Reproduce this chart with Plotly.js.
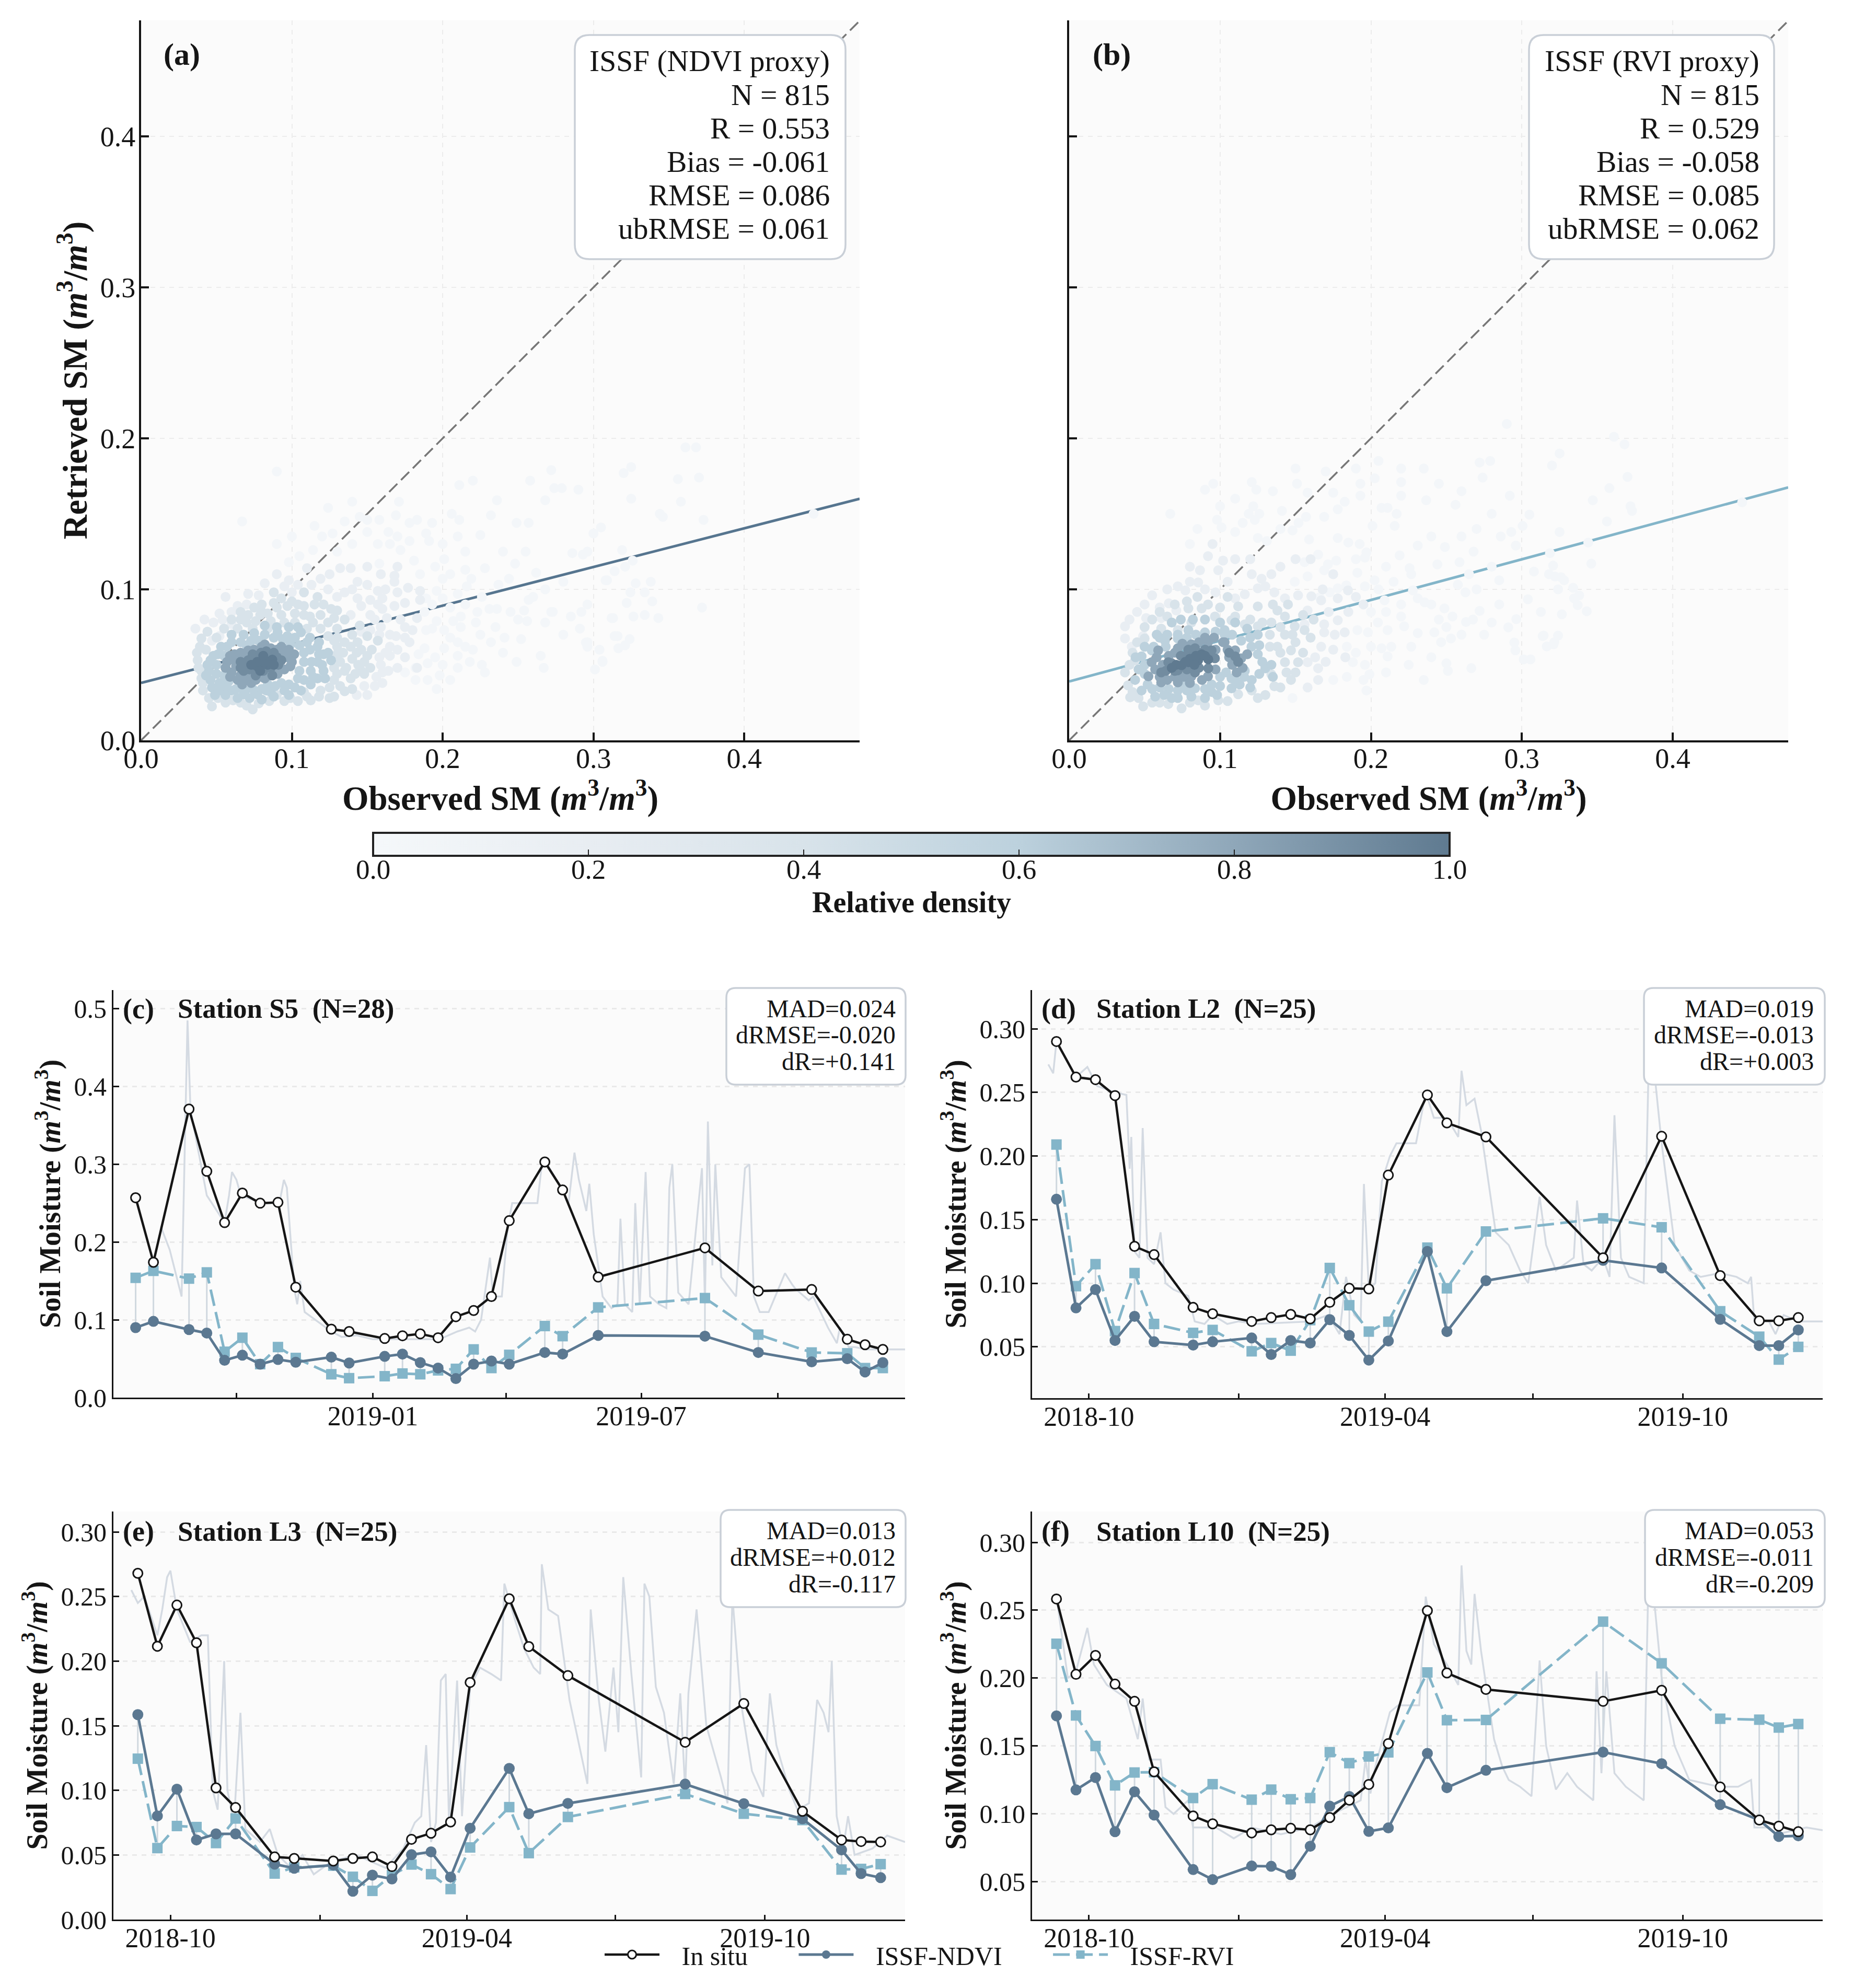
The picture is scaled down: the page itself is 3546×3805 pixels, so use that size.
<!DOCTYPE html>
<html>
<head>
<meta charset="utf-8">
<script src="https://cdn.plot.ly/plotly-3.0.1.min.js"></script>
<style>body{margin:0;background:#fff}</style>
</head>
<body>
<div id="plot"></div>
<script>
// sampling dates shared by the stations (12 day revisit)
var dates25 = ["2018-09-11","2018-09-23","2018-10-05","2018-10-17","2018-10-29","2018-11-10","2018-12-04","2018-12-16",
  "2019-01-09","2019-01-21","2019-02-02","2019-02-14","2019-02-26","2019-03-10","2019-03-22","2019-04-03","2019-04-27",
  "2019-05-09","2019-06-02","2019-08-13","2019-09-18","2019-10-24","2019-11-17","2019-11-29","2019-12-11"];
var dates28 = ["2018-07-25","2018-08-06","2018-08-30"].concat(dates25);

// station S5
var s5Insitu = [.257,.174,.371,.291,.225,.263,.250,.251,.142,.088,.085,.076,.0795,.082,.077,.104,.112,.130,.2275,.303,.267,.155,.1925,.137,.139,.075,.068,.062];
var s5Ndvi = [.090,.098,.0875,.083,.048,.0545,.043,.049,.0455,.052,.0445,.053,.056,.045,.038,.0245,.043,.047,.043,.058,.056,.080,.079,.058,.046,.05,.033,.045];
var s5Rvi = [.154,.163,.153,.161,.059,.077,.043,.065,.051,.030,.025,.0275,.031,.030,.035,.037,.062,.038,.055,.092,.079,.116,.128,.081,.058,.057,.038,.038];
// station L2
var l2Insitu = [.290,.262,.260,.2475,.129,.1225,.081,.076,.070,.073,.0755,.072,.085,.096,.0955,.185,.248,.226,.215,.120,.2155,.106,.0705,.0705,.073];
var l2Ndvi = [.166,.0806,.095,.055,.074,.054,.0514,.054,.057,.044,.055,.053,.0714,.059,.0396,.0546,.125,.062,.102,.118,.112,.0716,.051,.051,.0633];
var l2Rvi = [.209,.0977,.115,.0624,.108,.068,.061,.0633,.0465,.053,.047,.071,.112,.0827,.062,.0698,.128,.096,.1407,.151,.144,.078,.058,.04,.05];
// station L3
var l3Insitu = [.268,.2115,.2434,.2142,.1019,.0867,.0485,.0473,.0453,.0473,.0485,.041,.0621,.0668,.0755,.1835,.2483,.2113,.1888,.1372,.1672,.0838,.0616,.0604,.06];
var l3Ndvi = [.1586,.0802,.1009,.0616,.0663,.0663,.0429,.0397,.0422,.0219,.0344,.0314,.0502,.0524,.0329,.0707,.117,.0819,.0899,.1048,.0897,.078,.0539,.0356,.0324];
var l3Rvi = [.1245,.0553,.0724,.0716,.0592,.0782,.0356,.0404,.0417,.0331,.0222,.0344,.0426,.0351,.0236,.0558,.087,.0514,.0794,.0972,.0819,.077,.0387,.0392,.0429];
// station L10
var l10Insitu = [.2583,.2028,.2167,.1956,.1829,.131,.0985,.0927,.086,.0883,.0894,.0883,.0973,.1101,.1217,.1518,.2497,.2038,.1917,.1829,.191,.1198,.0955,.091,.0869];
var l10Ndvi = [.1722,.1177,.1268,.0869,.1163,.0992,.059,.0516,.0616,.0614,.0553,.0762,.1057,.1128,.0871,.0897,.1446,.1193,.1321,.1455,.137,.1068,.0955,.0834,.0839];
var l10Rvi = [.2253,.1725,.15,.121,.1305,.1307,.1117,.1219,.1105,.1179,.1108,.1117,.1455,.1374,.1423,.1453,.2042,.169,.1692,.2416,.2109,.1701,.1694,.1636,.1662];

// continuous probe record behind each panel, days counted from dailyBase, read at the turning points
var dailyBase = "2018-10-01";
var s5DailyDays = [-51,-45,-37,-35,-33,-31,-21,-20,-8,-5,-3,0,3,17,29,32,34,39,41,43,46,53,64,71,81,92,105,137,149,157,161,165,171,173,179,183,186,193,203,206,208,219,224,228,231,236,238,241,247,253,257,259,262,267,269,272,276,279,285,290,292,294,298,305,314,316,318,321,323,327,337,343,346,349,353,359,370,375,377,386,389,399,405,407,413,417,425,436,452];
var s5DailyVal = [.22,.19,.13,.30,.485,.37,.27,.26,.225,.26,.29,.28,.26,.25,.25,.28,.27,.14,.12,.15,.11,.10,.085,.078,.08,.075,.075,.075,.085,.09,.085,.10,.18,.13,.13,.22,.25,.25,.25,.30,.305,.27,.25,.315,.28,.24,.275,.21,.13,.115,.12,.23,.12,.11,.25,.12,.29,.13,.12,.115,.27,.30,.135,.12,.295,.12,.355,.17,.30,.155,.13,.295,.30,.13,.11,.11,.16,.145,.14,.125,.13,.09,.07,.09,.065,.065,.062,.062,.062];
var l2DailyDays = [-25,-22,-20,-8,-1,5,16,23,25,26,28,31,33,36,40,44,47,52,61,65,71,76,85,92,103,136,147,154,158,163,167,169,172,176,180,185,189,201,207,212,220,227,229,232,237,241,250,258,265,270,277,281,287,298,300,304,309,316,320,323,327,332,341,344,348,352,360,369,376,388,398,405,407,409,418,422,427,436,451];
var l2DailyVal = [.272,.265,.29,.262,.27,.255,.25,.248,.19,.215,.125,.12,.222,.12,.115,.14,.10,.095,.09,.07,.068,.075,.068,.07,.068,.07,.075,.06,.105,.075,.07,.178,.095,.10,.18,.20,.21,.21,.25,.23,.23,.215,.267,.24,.245,.22,.14,.13,.11,.10,.168,.13,.11,.12,.165,.115,.11,.12,.105,.232,.12,.105,.10,.27,.26,.21,.13,.11,.105,.108,.105,.10,.105,.07,.07,.06,.075,.07,.07];
var l3DailyDays = [-24,-20,-16,-8,-5,-2,0,4,12,19,23,26,29,33,35,39,43,46,55,61,66,74,81,88,99,114,132,143,150,154,157,160,163,166,169,171,176,179,184,190,197,203,205,212,217,223,227,228,232,238,245,250,256,258,263,267,270,272,275,278,283,289,291,294,298,303,309,313,316,318,323,329,338,342,345,350,357,364,368,372,380,385,392,397,401,404,406,409,413,416,420,431,440,451];
var l3DailyVal = [.255,.245,.25,.22,.24,.265,.27,.24,.215,.22,.22,.10,.085,.20,.10,.075,.16,.07,.06,.07,.05,.04,.05,.035,.045,.05,.04,.055,.075,.08,.135,.06,.075,.185,.19,.075,.185,.08,.18,.195,.19,.185,.26,.23,.21,.195,.19,.275,.24,.235,.17,.14,.105,.24,.17,.13,.17,.195,.145,.265,.19,.11,.26,.25,.18,.16,.105,.175,.10,.175,.24,.15,.11,.09,.25,.17,.115,.095,.175,.135,.10,.085,.09,.17,.16,.145,.20,.08,.055,.08,.05,.055,.065,.06];
var l10DailyDays = [-20,-13,-8,-1,3,11,23,30,33,37,44,47,52,61,64,71,78,89,100,118,136,150,167,170,173,176,185,190,203,207,212,220,227,229,232,235,237,241,249,254,258,265,272,277,281,287,294,300,310,312,315,318,323,330,341,344,348,352,360,369,387,399,407,409,418,423,441,451];
var l10DailyVal = [.26,.20,.205,.237,.21,.195,.185,.155,.185,.14,.14,.105,.10,.11,.09,.09,.09,.082,.09,.085,.09,.10,.11,.14,.115,.135,.175,.18,.18,.26,.225,.21,.195,.283,.22,.21,.262,.22,.155,.135,.125,.12,.113,.213,.15,.118,.13,.12,.11,.205,.13,.205,.13,.12,.11,.28,.25,.20,.15,.125,.12,.12,.125,.09,.09,.085,.09,.088];

// density levels used for the scatter groups below
var densityFaint = .03, densityLight = .18, densityMedium = .4, densityMid = .6, densityDark = .8, densityDeep = .92, densityCore = 1;

// panel (a) points [observed, retrieved]
var aFaint = [[.272,.179],[.274,.167],[.279,.167],[.29,.166],[.32,.177],[.325,.181],[.361,.194],[.368,.194],[.356,.173],[.37,.174],[.325,.16],[.358,.158],[.344,.15],[.346,.148],[.373,.146],[.305,.141],[.30,.137],[.286,.124],[.293,.123],[.296,.125],[.319,.126],[.326,.119],[.321,.115],[.314,.112],[.308,.106],[.328,.104],[.338,.105],[.3245,.098],[.334,.098],[.322,.091],[.339,.092],[.296,.09],[.272,.085],[.285,.082],[.292,.085],[.313,.081],[.3265,.082],[.334,.083],[.343,.081],[.372,.088],[.291,.074],[.314,.069],[.324,.067],[.321,.063],[.3165,.061],[.295,.0648],[.296,.062],[.304,.06],[.306,.0527],[.301,.047],[.446,.15],
  [.067,.145],[.09,.178],[.124,.154],[.14,.158],[.115,.142],[.15,.146],[.158,.146],[.171,.158],[.169,.149],[.178,.144],[.183,.146],[.193,.144],[.206,.15],[.211,.146],[.22,.172],[.211,.169],[.232,.149],[.236,.159],[.258,.172],[.268,.159],[.249,.144],[.257,.144],[.225,.136],[.189,.137],[.191,.132],[.164,.138],[.17,.135],[.15,.138],[.127,.137],[.157,.13],[.178,.132],[.172,.126],[.114,.126],[.181,.119],[.158,.117],[.201,.12],[.2,.107],[.248,.117],[.228,.114],[.215,.113],[.219,.107],[.262,.111],[.244,.107],[.309,.106],
  [.252,.067],[.249,.052],[.267,.048],[.226,.05],[.228,.045],[.198,.043],[.205,.04],[.196,.034],[.21,.056],[.215,.062],[.201,.061],[.188,.061],[.184,.057],[.19,.051],[.182,.048],[.225,.07],[.241,.068],[.232,.065],[.265,.056],[.257,.093],[.254,.086],[.256,.079],[.231,.087],[.236,.087],[.273,.085],[.296,.065],[.306,.052],[.312,.081],[.316,.069],[.212,.082],[.212,.075],[.196,.079],[.207,.079],[.189,.073],[.193,.074],[.201,.073],[.223,.085],[.189,.094],[.2,.094],[.21,.097],[.216,.102],[.226,.095],[.237,.103],[.196,.099],
  [.188,.085],[.193,.09],[.205,.088],[.215,.09],[.222,.078],[.205,.068],[.21,.065],[.22,.06],[.235,.075],[.245,.085],[.195,.055],[.2,.05],[.21,.048],[.175,.045],[.182,.04],[.19,.04],[.218,.052],[.24,.058],[.25,.08],[.28,.07],[.268,.078],[.26,.095],[.268,.1],[.28,.105],[.24,.125],[.255,.125],[.215,.125],[.2,.13],[.21,.135],[.185,.11],[.195,.115],[.205,.11],[.165,.13],[.14,.13],[.13,.125],[.105,.122],[.098,.118],[.09,.13],[.1,.135],[.145,.148],[.12,.135],[.135,.145]];
var aLight = [[.135,.098],[.1435,.105],[.15,.103],[.157,.099],[.168,.105],[.177,.101],[.185,.099],[.1435,.094],[.152,.093],[.16,.094],[.17,.098],[.175,.091],[.185,.093],[.146,.089],[.157,.09],[.168,.089],[.139,.083],[.152,.083],[.163,.081],[.159,.075],[.152,.073],[.146,.072],[.169,.069],[.175,.068],[.18,.073],[.183,.081],[.162,.058],[.17,.06],[.159,.05],[.164,.046],[.156,.042],[.15,.03],[.183,.048],[.132,.114],[.139,.114],[.159,.11],[.119,.107],[.113,.103],[.104,.103],[.098,.106],[.11,.114],[.168,.109],[.056,.095],[.071,.097],[.078,.096],[.052,.084],[.064,.089],[.06,.077],[.036,.074],[.052,.069],[.047,.066],
  [.042,.08],[.048,.078],[.054,.08],[.06,.085],[.07,.09],[.082,.104],[.09,.11],[.095,.102],[.1,.098],[.124,.1],[.13,.095],[.125,.11],[.14,.1],[.16,.087],[.165,.07],[.172,.08],[.175,.075],[.178,.065],[.165,.062],[.158,.07],[.155,.08],[.162,.1],[.17,.115],[.15,.115],[.158,.055],[.165,.056],[.155,.036],[.16,.038],[.148,.036],[.143,.03],[.16,.045],[.17,.048],[.175,.055]];
var aMedium = [[.088,.098],[.093,.094],[.088,.091],[.097,.089],[.093,.083],[.086,.079],[.084,.074],[.108,.098],[.117,.095],[.108,.089],[.121,.09],[.126,.087],[.119,.083],[.128,.081],[.108,.083],[.102,.078],[.11,.074],[.119,.074],[.13,.074],[.071,.083],[.079,.083],[.074,.074],[.064,.074],[.04,.0675],[.039,.062],[.0375,.053],[.04,.046],[.041,.038],[.041,.033],[.047,.0225],[.074,.0205],[.078,.0245],[.061,.0265],[.051,.028],[.09,.03],[.099,.028],[.104,.026],[.1125,.0265],[.125,.028],[.128,.029],[.135,.0325],[.14,.034],[.119,.033],[.108,.032],[.148,.044],[.139,.041],[.146,.046],[.148,.052],[.14,.054],[.135,.046],[.13,.044],[.13,.062],[.135,.065],[.128,.066],[.139,.062],[.1435,.065],[.15,.069],
  [.037,.058],[.038,.048],[.04,.041],[.043,.06],[.044,.072],[.05,.068],[.055,.074],[.06,.08],[.066,.08],[.07,.078],[.076,.079],[.08,.085],[.084,.084],[.09,.088],[.095,.078],[.102,.084],[.104,.09],[.112,.082],[.114,.078],[.124,.078],[.13,.068],[.124,.069],[.13,.057],[.134,.058],[.128,.048],[.132,.052],[.136,.048],[.128,.04],[.125,.035],[.132,.036],[.118,.029],[.11,.029],[.095,.026],[.085,.026],[.07,.023],[.066,.025],[.056,.025],[.045,.028],[.143,.058],[.146,.06],[.144,.05],[.15,.056],[.152,.048],[.142,.044],[.153,.06],[.157,.066],[.14,.07],[.145,.076],[.135,.08],[.13,.086],[.115,.09],[.1,.092],[.08,.09],[.075,.088],[.066,.085]];
var aMid = [[.097,.069],[.106,.0715],[.099,.0635],[.11,.065],[.117,.062],[.121,.057],[.126,.053],[.121,.046],[.117,.041],[.1125,.037],[.106,.033],[.095,.033],[.086,.032],[.077,.0305],[.068,.0305],[.06,.033],[.052,.033],[.046,.04],[.045,.046],[.046,.053],[.051,.057],[.057,.062],[.066,.065],[.073,.066],[.082,.07],[.0905,.0715],[.108,.052],[.1125,.046],[.104,.041],[.093,.038],[.084,.037],[.117,.052],
  [.05,.05],[.05,.044],[.052,.038],[.055,.056],[.056,.036],[.058,.039],[.06,.065],[.063,.034],[.069,.033],[.07,.063],[.074,.034],[.078,.066],[.08,.034],[.083,.033],[.088,.068],[.089,.036],[.094,.067],[.098,.037],[.102,.068],[.102,.035],[.105,.063],[.105,.046],[.108,.058],[.108,.04],[.112,.06],[.113,.052],[.114,.042],[.118,.057],[.12,.05],[.122,.041],[.124,.058],[.053,.062],[.048,.056],[.047,.035],[.049,.03],[.056,.03],[.064,.028],[.072,.028],[.08,.027],[.088,.029],[.098,.03],[.043,.043],[.044,.05],[.055,.043],[.112,.068],[.118,.065],[.104,.075],[.098,.075],[.09,.075],[.082,.076],[.075,.071],[.068,.07],[.06,.07]];
var aDark = [[.057,.052],[.06,.045],[.064,.04],[.073,.038],[.082,.041],[.0905,.044],[.099,.049],[.1015,.057],[.093,.062],[.082,.0635],[.071,.0595],[.062,.057],
  [.059,.056],[.063,.049],[.066,.043],[.07,.056],[.07,.041],[.075,.06],[.076,.04],[.08,.062],[.08,.042],[.085,.043],[.086,.061],[.09,.06],[.095,.047],[.097,.055],[.098,.06],[.062,.053],[.066,.058],[.067,.037],[.072,.043],[.088,.046],[.094,.057],[.09,.05],[.1,.052],[.056,.048],[.059,.042]];
var aDeep = [[.066,.052],[.068,.046],[.077,.045],[.086,.048],[.093,.053],[.088,.058],[.0795,.058],[.073,.054],
  [.07,.05],[.072,.047],[.074,.057],[.078,.055],[.081,.046],[.084,.056],[.09,.055],[.091,.05],[.071,.053],[.076,.043],[.083,.059],[.066,.048],[.087,.043]];
var aCore = [[.075,.05],[.082,.053],[.084,.05],[.078,.048],[.087,.0535],[.08,.05],[.077,.052],[.085,.052],[.081,.056],[.073,.05],[.079,.046],[.088,.05]];

// panel (b) points [observed, retrieved]
var bFaint = [[.29,.2095],[.361,.201],[.368,.196],[.325,.19],[.32,.182],[.272,.184],[.279,.185],[.274,.174],[.37,.1745],[.358,.167],[.292,.162],[.347,.159],[.372,.155],[.373,.152],[.305,.1495],[.3564,.145],[.3005,.142],[.293,.138],[.286,.135],[.325,.138],[.296,.129],[.268,.125],[.344,.131],[.3186,.124],[.346,.117],[.3207,.1157],[.308,.1118],[.285,.106],[.322,.1085],[.326,.108],[.328,.106],[.324,.1],[.334,.101],[.2626,.098],[.304,.0934],[.338,.096],[.3346,.094],[.337,.0895],[.3126,.085],[.3265,.0835],[.343,.0855],[.272,.0857],[.2676,.08],[.263,.0784],[.2963,.0803],[.291,.0748],[.3144,.0694],[.324,.0694],[.321,.0636],[.3165,.0622],[.295,.0648],[.2957,.0596],[.3012,.0536],[.3057,.0536],[.2665,.0478],[.446,.1576],
  [.067,.15],[.09,.166],[.0955,.17],[.121,.171],[.124,.166],[.151,.17],[.122,.155],[.126,.15],[.119,.15],[.098,.146],[.101,.141],[.11,.138],[.115,.144],[.123,.146],[.141,.152],[.158,.164],[.175,.164],[.193,.17],[.193,.162],[.2025,.1735],[.22,.171],[.22,.162],[.1826,.158],[.178,.153],[.169,.148],[.157,.148],[.152,.144],[.148,.139],[.125,.134],[.131,.132],[.159,.133],[.207,.154],[.211,.154],[.217,.15],[.201,.142],[.2157,.142],[.2366,.159],[.256,.156],[.231,.129],[.249,.128],[.219,.1225],[.244,.1165],[.2587,.118],[.2256,.114],[.2267,.11],[.2576,.103],[.318,.11],
  [.178,.134],[.185,.131],[.1925,.13],[.197,.1245],[.196,.121],[.191,.111],[.177,.119],[.1715,.1166],[.169,.1126],[.165,.123],[.158,.1086],[.156,.118],[.1495,.105],[.2024,.106],[.196,.102],[.1837,.1026],[.178,.1007],[.1727,.098],[.166,.0947],[.209,.0927],[.2278,.0993],[.231,.094],[.2355,.0914],[.2487,.0874],[.254,.082],[.2046,.078],[.222,.0755],[.191,.073],[.198,.0715],[.211,.073],[.231,.071],[.242,.0715],[.2267,.062],[.2465,.065],[.253,.0675],[.2135,.062],[.207,.061],[.2,.062],[.184,.062],[.19,.058],[.211,.0556],[.196,.05],[.188,.0517],[.25,.051],[.251,.046],[.184,.042],[.199,.0437],[.197,.033],[.148,.028],[.3138,.069],[.3215,.065],
  [.2,.085],[.21,.085],[.22,.09],[.22,.082],[.205,.1],[.215,.105],[.19,.12],[.21,.115],[.24,.09],[.245,.08],[.25,.075],[.26,.07],[.275,.07],[.28,.078],[.285,.09],[.27,.1],[.28,.115],[.265,.11],[.24,.135],[.26,.135],[.27,.14],[.28,.15],[.26,.165],[.245,.17],[.235,.18],[.22,.18],[.205,.185],[.19,.18],[.17,.178],[.15,.18],[.135,.165],[.14,.14],[.11,.16],[.1,.155],[.085,.14],[.08,.13],[.21,.045],[.225,.05],[.24,.055],[.235,.04],[.195,.04],[.175,.04]];
var bLight = [[.055,.096],[.06,.088],[.066,.0907],[.072,.102],[.077,.0993],[.0855,.1046],[.092,.122],[.0867,.1126],[.0988,.1126],[.102,.119],[.051,.081],[.037,.0755],[.061,.081],[.071,.086],[.037,.0675],[.0415,.062],[.049,.069],[.121,.11],[.1275,.107],[.134,.11],[.125,.1007],[.11,.094],[.1164,.0967],[.13,.102],[.136,.098],[.143,.094],[.1517,.096],[.1605,.0954],[.158,.086],[.167,.0927],[.178,.094],[.1848,.0993],[.156,.0768],[.169,.0768],[.178,.0795],[.1826,.0715],[.169,.0715],[.176,.07],[.167,.062],[.158,.0517],[.165,.0477],
  [.04,.08],[.045,.085],[.05,.09],[.065,.1],[.08,.105],[.09,.1],[.097,.098],[.105,.105],[.11,.12],[.095,.13],[.08,.115],[.168,.1],[.172,.085],[.185,.085],[.19,.095],[.195,.09],[.175,.06],[.183,.055],[.17,.052],[.165,.04],[.158,.035],[.163,.055],[.175,.11],[.16,.12],[.14,.115],[.15,.12],[.12,.12]];
var bMedium = [[.125,.0887],[.138,.086],[.143,.082],[.134,.078],[.125,.0755],[.1164,.0768],[.11,.082],[.112,.0887],[.1495,.0755],[.156,.073],[.143,.07],[.138,.062],[.147,.0596],[.1517,.0517],[.143,.0517],[.134,.0437],[.147,.04],[.136,.0358],[.121,.033],[.112,.0305],[.0988,.0265],[.0745,.0212],[.0657,.024],[.049,.0225],[.0404,.0285],[.039,.0364],[.037,.045],[.0437,.053],[.05,.0675],[.061,.074],[.072,.073],[.081,.078],[.0878,.0874],[.0966,.082],[.1076,.0795],[.079,.0874],[.0855,.0265],
  [.04,.05],[.042,.058],[.045,.065],[.05,.075],[.055,.08],[.06,.085],[.065,.082],[.07,.09],[.078,.092],[.085,.095],[.092,.09],[.1,.088],[.105,.095],[.12,.08],[.128,.078],[.133,.07],[.14,.075],[.133,.062],[.14,.058],[.144,.045],[.15,.045],[.14,.035],[.13,.03],[.125,.028],[.105,.026],[.09,.023],[.08,.025],[.06,.025],[.055,.025],[.042,.032],[.046,.028],[.15,.065],[.16,.068],[.155,.058],[.148,.07],[.162,.08],[.155,.083],[.145,.09],[.135,.09]];
var bMid = [[.048,.0556],[.0547,.0596],[.0437,.04],[.048,.033],[.057,.029],[.068,.028],[.081,.029],[.0944,.032],[.1076,.0344],[.121,.04],[.13,.0477],[.125,.057],[.1208,.062],[.114,.066],[.103,.073],[.09,.0715],[.079,.073],[.072,.0675],[.0635,.066],[.1164,.046],[.1076,.041],[.0944,.037],[.0834,.0344],[.072,.033],
  [.05,.05],[.05,.044],[.052,.037],[.055,.034],[.05,.062],[.056,.062],[.06,.068],[.065,.07],[.072,.07],[.078,.068],[.084,.07],[.097,.072],[.103,.07],[.108,.07],[.12,.068],[.126,.063],[.128,.052],[.134,.05],[.135,.042],[.126,.044],[.12,.035],[.113,.037],[.11,.04],[.1,.036],[.09,.034],[.078,.033],[.075,.037],[.066,.034],[.063,.03],[.072,.028],[.09,.028],[.098,.03],[.1,.042],[.104,.045],[.116,.042],[.06,.035],[.046,.047],[.044,.055],[.058,.07],[.064,.062],[.1,.078],[.11,.078],[.118,.074],[.125,.07],[.09,.08],[.082,.08],[.074,.08],[.068,.078]];
var bDark = [[.059,.0596],[.0547,.0517],[.0525,.0424],[.061,.0384],[.072,.0384],[.081,.0424],[.092,.0424],[.114,.0543],[.11,.0596],[.103,.065],[.092,.065],[.081,.0636],[.072,.061],
  [.058,.055],[.062,.05],[.066,.056],[.057,.047],[.06,.042],[.065,.04],[.07,.042],[.076,.042],[.08,.038],[.088,.04],[.097,.047],[.097,.06],[.105,.06],[.106,.055],[.102,.065],[.086,.065],[.078,.062],[.07,.058],[.075,.064],[.108,.05],[.118,.057],[.115,.048],[.111,.045],[.09,.068],[.096,.068]];
var bDeep = [[.0657,.0517],[.061,.045],[.072,.0464],[.0834,.045],[.0922,.0477],[.0966,.0543],[.0944,.0596],[.0834,.061],[.0767,.0556],[.11,.0556],
  [.068,.051],[.07,.046],[.074,.056],[.078,.047],[.086,.048],[.09,.06],[.082,.057],[.079,.06],[.064,.046],[.086,.058],[.106,.058],[.112,.052]];
var bCore = [[.079,.0517],[.0855,.053],[.0878,.057],[.0922,.0536],[.0745,.0497],[.08,.054],[.083,.05],[.084,.056],[.077,.052],[.071,.05],[.09,.056],[.068,.048]];

// regression and 1:1 lines
var lineX = [0, .4765];
var fitA = [.038, .16];
var fitB = [.039, .1675];
var scatterTicks = [0, .1, .2, .3, .4];
var colorbarTicks = [0, .2, .4, .6, .8, 1];

var statsA = ["ISSF (NDVI proxy)", "N = 815", "R = 0.553", "Bias = -0.061", "RMSE = 0.086", "ubRMSE = 0.061"];
var statsB = ["ISSF (RVI proxy)", "N = 815", "R = 0.529", "Bias = -0.058", "RMSE = 0.085", "ubRMSE = 0.062"];
var statsC = ["MAD=0.024", "dRMSE=-0.020", "dR=+0.141"];
var statsD = ["MAD=0.019", "dRMSE=-0.013", "dR=+0.003"];
var statsE = ["MAD=0.013", "dRMSE=+0.012", "dR=-0.117"];
var statsF = ["MAD=0.053", "dRMSE=-0.011", "dR=-0.209"];

var W = 3546, H = 3805;
var FONT = "Liberation Serif";
var INK = "#151515";
var NDVI_COLOR = "#5b7891", RVI_COLOR = "#83b5c9", DAILY_COLOR = "#d4dae2", SPREAD_COLOR = "#d0d8df";
var DENSITY_SCALE = [[0,"#f5f8fa"],[.2,"#e8edf2"],[.4,"#d8e3ea"],[.6,"#bcd1dd"],[.8,"#8fa7b9"],[1,"#5f7a90"]];
var NB = "\u00a0";
var NB3 = NB + NB + NB, NB7 = NB3 + NB3 + NB;

function px(x) { return x / W; }
function py(y) { return 1 - y / H; }

function shiftDays(base, n) {
  var d = new Date(base + "T00:00:00Z");
  d.setUTCDate(d.getUTCDate() + n);
  return d.toISOString().slice(0, 10);
}

var traces = [];
var annotations = [];
var shapes = [];
var layout = {
  width: W, height: H, margin: {l: 0, r: 0, t: 0, b: 0}, autosize: false,
  paper_bgcolor: "#fff", plot_bgcolor: "#fbfbfb",
  font: {family: FONT, color: INK, size: 50},
  showlegend: true,
  legend: {orientation: "h", x: px(1152), y: py(3741), xanchor: "left", yanchor: "middle", font: {size: 50},
    itemwidth: 105, bgcolor: "rgba(0,0,0,0)", traceorder: "normal", tracegroupgap: 0}
};

function roundedBox(x0, y0, x1, y1, r) {
  // corners are worked out in pixels, the path itself is in paper units
  var p = "M" + px(x0 + r) + "," + py(y0) + " L" + px(x1 - r) + "," + py(y0) +
    " Q" + px(x1) + "," + py(y0) + " " + px(x1) + "," + py(y0 + r) +
    " L" + px(x1) + "," + py(y1 - r) + " Q" + px(x1) + "," + py(y1) + " " + px(x1 - r) + "," + py(y1) +
    " L" + px(x0 + r) + "," + py(y1) + " Q" + px(x0) + "," + py(y1) + " " + px(x0) + "," + py(y1 - r) +
    " L" + px(x0) + "," + py(y0 + r) + " Q" + px(x0) + "," + py(y0) + " " + px(x0 + r) + "," + py(y0) + " Z";
  shapes.push({type: "path", path: p, xref: "paper", yref: "paper", layer: "above",
    fillcolor: "#fff", line: {color: "#c9cfd7", width: 3.5}});
}

function statsBox(box, lines, textRight, firstY, step, size) {
  roundedBox(box[0], box[1], box[2], box[3], box[4]);
  lines.forEach(function (t, i) {
    annotations.push({text: t, xref: "paper", yref: "paper", x: px(textRight), y: py(firstY + i * step),
      xanchor: "right", yanchor: "middle", showarrow: false, font: {size: size, color: INK}});
  });
}

function label(text, x, y, size) {
  annotations.push({text: "<b>" + text + "</b>", xref: "paper", yref: "paper", x: px(x), y: py(y),
    xanchor: "left", yanchor: "middle", showarrow: false, font: {size: size, color: INK}});
}

function scatterPanel(n, box, fit, fitColor, groups, showTickLabels) {
  var xa = "x" + n, ya = "y" + n;
  var obs = [], ret = [], den = [];
  groups.forEach(function (g) {
    g[1].forEach(function (p) { obs.push(p[0]); ret.push(p[1]); den.push(g[0]); });
  });
  traces.push({x: lineX, y: lineX, xaxis: xa, yaxis: ya, mode: "lines", showlegend: false, hoverinfo: "skip",
    line: {color: "#777", width: 3.5, dash: "22px,10px"}});
  traces.push({x: lineX, y: fit, xaxis: xa, yaxis: ya, mode: "lines", showlegend: false, hoverinfo: "skip",
    line: {color: fitColor, width: 5}});
  var marker = {size: 19, color: den, cmin: 0, cmax: 1, colorscale: DENSITY_SCALE, line: {width: 0}};
  if (n === 1) {
    marker.showscale = true;
    marker.colorbar = {orientation: "h", xref: "paper", yref: "paper", x: px(714), xanchor: "left", y: py(1594), yanchor: "top",
      lenmode: "pixels", len: 2060, thicknessmode: "pixels", thickness: 44, xpad: 0, ypad: 0,
      outlinewidth: 4, outlinecolor: "#222", ticks: "inside", ticklen: 14, tickwidth: 2, tickcolor: "#222",
      tickvals: colorbarTicks, showticklabels: false};
  } else {
    marker.showscale = false;
  }
  traces.push({x: obs, y: ret, xaxis: xa, yaxis: ya, mode: "markers", showlegend: false, marker: marker});

  var axisBase = {showline: true, linecolor: INK, linewidth: 4, ticks: "inside", ticklen: 15, tickwidth: 4, tickcolor: INK,
    showgrid: true, gridcolor: "#ececec", griddash: "dash", gridwidth: 2, zeroline: false, tickvals: scatterTicks, tickformat: ".1f",
    tickfont: {size: 54}};
  layout["xaxis" + n] = Object.assign({}, axisBase, {domain: [px(box[0]), px(box[2])], range: [0, .4765], anchor: ya, ticklabelstandoff: -16,
    title: {text: "<b>Observed SM (<i>m</i><sup>3</sup>/<i>m</i><sup>3</sup>)</b>", font: {size: 65}, standoff: 0}});
  layout["yaxis" + n] = Object.assign({}, axisBase, {domain: [py(box[3]), py(box[1])], range: [0, .4768], anchor: xa,
    showticklabels: showTickLabels, ticklabelstandoff: -4,
    title: showTickLabels ? {text: "<b>Retrieved SM (<i>m</i><sup>3</sup>/<i>m</i><sup>3</sup>)</b>", font: {size: 65}, standoff: 5} : undefined});
}

function seriesPanel(n, box, xRange, yRange, yTicks, yFormat, dates, insitu, ndvi, rvi, dailyDays, dailyVal, xTickVals, xTickText, withLegend) {
  var xa = "x" + n, ya = "y" + n;
  // vertical links between the two products on each overpass
  var sx = [], sy = [];
  dates.forEach(function (d, i) { sx.push(d, d, null); sy.push(ndvi[i], rvi[i], null); });
  traces.push({x: dailyDays.map(function (d) { return shiftDays(dailyBase, d); }), y: dailyVal, xaxis: xa, yaxis: ya, mode: "lines",
    showlegend: false, hoverinfo: "skip", line: {color: DAILY_COLOR, width: 3.5}});
  traces.push({x: sx, y: sy, xaxis: xa, yaxis: ya, mode: "lines", showlegend: false, hoverinfo: "skip",
    line: {color: SPREAD_COLOR, width: 3}});
  traces.push({name: NB3 + "ISSF-RVI", x: dates, y: rvi, xaxis: xa, yaxis: ya, mode: "lines+markers", showlegend: withLegend,
    legendrank: 3, line: {color: RVI_COLOR, width: 5, dash: "32px,12px"}, marker: {symbol: "square", size: 20, color: RVI_COLOR}});
  traces.push({name: NB3 + "ISSF-NDVI" + NB7, x: dates, y: ndvi, xaxis: xa, yaxis: ya, mode: "lines+markers", showlegend: withLegend,
    legendrank: 2, line: {color: NDVI_COLOR, width: 5}, marker: {symbol: "circle", size: 21, color: NDVI_COLOR}});
  traces.push({name: NB3 + "In situ" + NB7, x: dates, y: insitu, xaxis: xa, yaxis: ya, mode: "lines+markers", showlegend: withLegend,
    legendrank: 1, line: {color: INK, width: 4.5}, marker: {symbol: "circle", size: 18, color: "#fff", line: {color: INK, width: 3}}});
  layout["xaxis" + n] = {domain: [px(box[0]), px(box[2])], type: "date", range: xRange, anchor: ya, showline: true, linecolor: INK, linewidth: 3,
    ticks: "inside", ticklen: 9, tickwidth: 2.5, tickcolor: INK, showgrid: false, zeroline: false, ticklabelstandoff: -12,
    tickmode: "array", tickvals: xTickVals, ticktext: xTickText, tickfont: {size: 52}};
  layout["yaxis" + n] = {domain: [py(box[3]), py(box[1])], range: yRange, anchor: xa, showline: true, linecolor: INK, linewidth: 3,
    ticks: "inside", ticklen: 11, tickwidth: 2.5, tickcolor: INK, showgrid: true, gridcolor: "#e9e9e9", griddash: "dash", gridwidth: 2.5, zeroline: false,
    tickmode: "array", tickvals: yTicks, tickformat: yFormat, tickfont: {size: 50},
    title: {text: "<b>Soil Moisture (<i>m</i><sup>3</sup>/<i>m</i><sup>3</sup>)</b>", font: {size: 56}, standoff: 8}};
}

var groupLevels = [densityFaint, densityLight, densityMedium, densityMid, densityDark, densityDeep, densityCore];
function zipLevels(lists) { return lists.map(function (l, i) { return [groupLevels[i], l]; }); }

scatterPanel(1, [270, 39, 1645, 1417], fitA, "#56758f", zipLevels([aFaint, aLight, aMedium, aMid, aDark, aDeep, aCore]), true);
scatterPanel(2, [2046, 39, 3422, 1417], fitB, "#83b5c9", zipLevels([bFaint, bLight, bMedium, bMid, bDark, bDeep, bCore]), false);

var monthTicks = ["2018-10-01", "2019-01-01", "2019-04-01", "2019-07-01", "2019-10-01"];
var rangeC = ["2018-07-10", "2019-12-26"], rangeRest = ["2018-08-27", "2019-12-26"];
var textC = ["", "2019-01", "", "2019-07", ""], textRest = ["2018-10", "", "2019-04", "", "2019-10"];

seriesPanel(3, [217, 1895, 1732, 2675], rangeC, [0, .524], [0, .1, .2, .3, .4, .5], ".1f", dates28, s5Insitu, s5Ndvi, s5Rvi, s5DailyDays, s5DailyVal, monthTicks, textC, false);
seriesPanel(4, [1975, 1895, 3488, 2676], rangeRest, [.0097, .3304], [.05, .10, .15, .20, .25, .30], ".2f", dates25, l2Insitu, l2Ndvi, l2Rvi, l2DailyDays, l2DailyVal, monthTicks, textRest, false);
seriesPanel(5, [217, 2893, 1732, 3674], rangeRest, [0, .3158], [0, .05, .10, .15, .20, .25, .30], ".2f", dates25, l3Insitu, l3Ndvi, l3Rvi, l3DailyDays, l3DailyVal, monthTicks, textRest, true);
seriesPanel(6, [1975, 2893, 3488, 3674], rangeRest, [.0222, .3227], [.05, .10, .15, .20, .25, .30], ".2f", dates25, l10Insitu, l10Ndvi, l10Rvi, l10DailyDays, l10DailyVal, monthTicks, textRest, false);

statsBox([1100, 67, 1618, 496, 28], statsA, 1590, 117, 64, 57.5);
statsBox([2926, 67, 3395, 496, 28], statsB, 3369, 117, 64, 57.5);
statsBox([1390, 1891, 1733, 2076, 18], statsC, 1716, 1930, 50.5, 48);
statsBox([3146, 1891, 3492, 2076, 18], statsD, 3473, 1930, 50.5, 48);
statsBox([1379, 2890, 1733, 3076, 18], statsE, 1716, 2929, 51, 48);
statsBox([3148, 2890, 3492, 3076, 18], statsF, 3473, 2929, 51, 48);

// colour bar labels sit closer to the bar than the library puts them
colorbarTicks.forEach(function (t) {
  annotations.push({text: t.toFixed(1), xref: "paper", yref: "paper", x: px(714 + 2060 * t), y: py(1664), xanchor: "center", yanchor: "middle",
    showarrow: false, font: {size: 53, color: INK}});
});
annotations.push({text: "<b>Relative density</b>", xref: "paper", yref: "paper", x: px(1744), y: py(1727), xanchor: "center", yanchor: "middle",
  showarrow: false, font: {size: 56, color: INK}});

label("(a)", 311, 104, 60);
label("(b)", 2089, 104, 60);
label("(c)", 233, 1931, 54);
label("Station S5" + NB + NB + "(N=28)", 338, 1931, 53);
label("(d)", 1991, 1931, 54);
label("Station L2" + NB + NB + "(N=25)", 2096, 1931, 53);
label("(e)", 233, 2931, 54);
label("Station L3" + NB + NB + "(N=25)", 338, 2931, 53);
label("(f)", 1991, 2931, 54);
label("Station L10" + NB + NB + "(N=25)", 2096, 2931, 53);

layout.annotations = annotations;
layout.shapes = shapes;

Plotly.newPlot("plot", traces, layout, {displayModeBar: false, responsive: false});
</script>
</body>
</html>
